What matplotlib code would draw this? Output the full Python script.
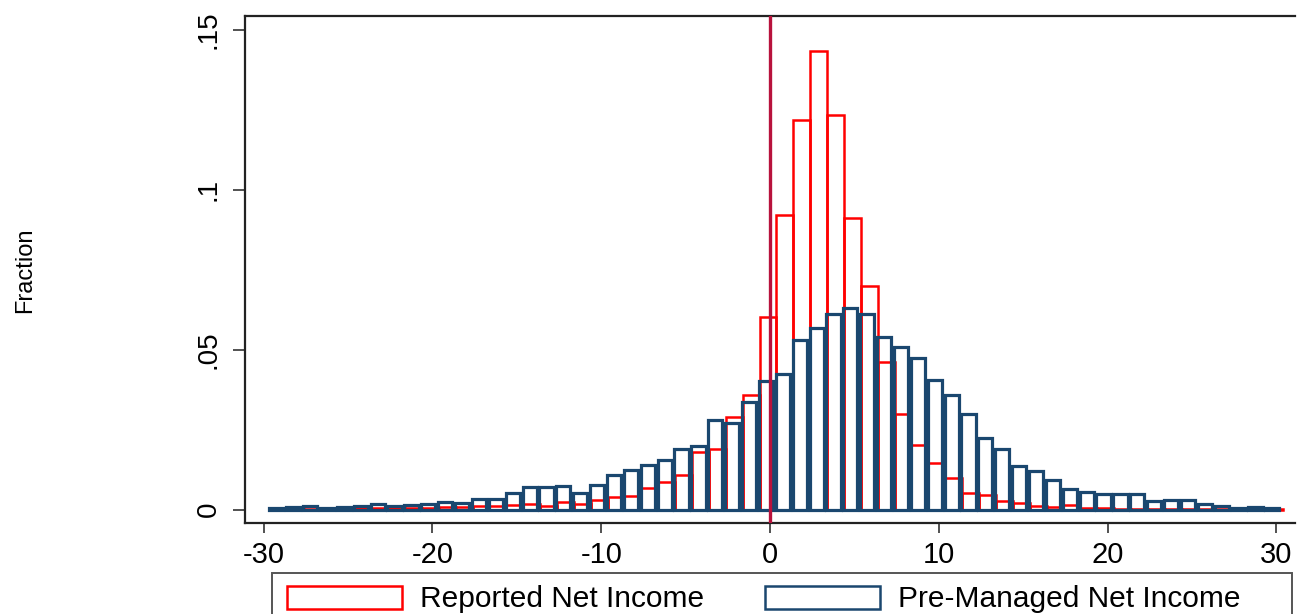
import numpy as np
import matplotlib
matplotlib.use("Agg")
import matplotlib.pyplot as plt
from matplotlib.patches import Rectangle

# ---- data: bins of width 1, labelled by integer n (-29 .. 30) ----
bins = list(range(-29, 31))

reported = [0.0002, 0.0003, 0.0002, 0.0003, 0.0003, 0.0004, 0.0004, 0.0005, 0.0005, 0.0006,
            0.0008, 0.0009, 0.0010, 0.0010, 0.0014, 0.0016, 0.0012, 0.0025, 0.0019, 0.0029,
            0.0039, 0.0042, 0.0068, 0.0085, 0.0109, 0.0179, 0.0190, 0.0289, 0.0357, 0.0602,
            0.0921, 0.1219, 0.1435, 0.1233, 0.0911, 0.0700, 0.0461, 0.0300, 0.0201, 0.0145,
            0.0099, 0.0052, 0.0045, 0.0026, 0.0021, 0.0010, 0.0007, 0.0015, 0.0004, 0.0004,
            0.0003, 0.0003, 0.0003, 0.0003, 0.0002, 0.0002, 0.0002, 0.0002, 0.0002, 0.0002]

premanaged = [0.0004, 0.0007, 0.0012, 0.0005, 0.0009, 0.0012, 0.0016, 0.0012, 0.0013, 0.0019,
              0.0024, 0.0022, 0.0033, 0.0033, 0.0053, 0.0071, 0.0071, 0.0073, 0.0053, 0.0077,
              0.0109, 0.0125, 0.0140, 0.0156, 0.0188, 0.0198, 0.0279, 0.0271, 0.0338, 0.0401,
              0.0424, 0.0529, 0.0568, 0.0612, 0.0630, 0.0611, 0.0539, 0.0510, 0.0474, 0.0404,
              0.0359, 0.0300, 0.0223, 0.0191, 0.0137, 0.0122, 0.0091, 0.0065, 0.0055, 0.0050,
              0.0050, 0.0050, 0.0027, 0.0029, 0.0029, 0.0019, 0.0012, 0.0004, 0.0009, 0.0004]

xticks = [-30, -20, -10, 0, 10, 20, 30]
yticks = [0, 0.05, 0.10, 0.15]
ytick_labels = ["0", ".05", ".1", ".15"]
series_names = ["Reported Net Income", "Pre-Managed Net Income"]

RED = "#FF0000"
NAVY = "#1A476F"
VLINE = "#B8123C"

W, H = 1297, 614
plt.rcParams["font.family"] = ["Liberation Sans", "DejaVu Sans"]
fig = plt.figure(figsize=(W / 100, H / 100), dpi=100)

def fx(x):
    return x / W

def fy(y):
    return 1 - y / H

# axes placement in pixels: left 245, right 1295, top 16, bottom 523
ax = fig.add_axes([fx(245), fy(523), (1295 - 245) / W, (523 - 16) / H])

b = np.array(bins, dtype=float)
ax.bar(b - 0.62, reported, width=1.0, align="edge", fill=False,
       edgecolor=RED, linewidth=1.8, zorder=2)
ax.bar(b - 0.66, premanaged, width=0.84, align="edge", fill=False,
       edgecolor=NAVY, linewidth=2.3, zorder=3)
ax.axvline(0, color=VLINE, linewidth=2.4, zorder=4)

ax.set_xlim(-31.1, 31.1)
ax.set_ylim(-0.0042, 0.1544)
ax.set_xticks(xticks)
ax.set_xticklabels([str(t) for t in xticks], fontsize=21)
ax.set_yticks(yticks)
ax.set_yticklabels(ytick_labels, fontsize=20, rotation=90, va="center")
ax.tick_params(axis="y", length=9, width=1.2, pad=8, color="#333333")
ax.tick_params(axis="x", length=7, width=1.2, pad=6, color="#333333")
for s in ax.spines.values():
    s.set_linewidth(1.6)
    s.set_color("#222222")
ax.spines["right"].set_visible(False)

fig.text(fx(25), fy(270), "Fraction", rotation=90, fontsize=17,
         ha="center", va="center")

# legend (drawn manually, bottom cut off by figure edge)
fig.add_artist(Rectangle((fx(272), fy(640)), fx(1292 - 272), (640 - 573) / H,
                         transform=fig.transFigure, fill=False,
                         edgecolor="#555555", linewidth=1.4))
fig.add_artist(Rectangle((fx(287), fy(609)), fx(402 - 287), (609 - 586) / H,
                         transform=fig.transFigure, fill=False,
                         edgecolor=RED, linewidth=1.8))
fig.add_artist(Rectangle((fx(765), fy(609)), fx(880 - 765), (609 - 586) / H,
                         transform=fig.transFigure, fill=False,
                         edgecolor=NAVY, linewidth=1.8))
fig.text(fx(420), fy(599), series_names[0], fontsize=21.5, ha="left", va="center")
fig.text(fx(898), fy(599), series_names[1], fontsize=21.5, ha="left", va="center")

fig.savefig("out.png", dpi=100)
